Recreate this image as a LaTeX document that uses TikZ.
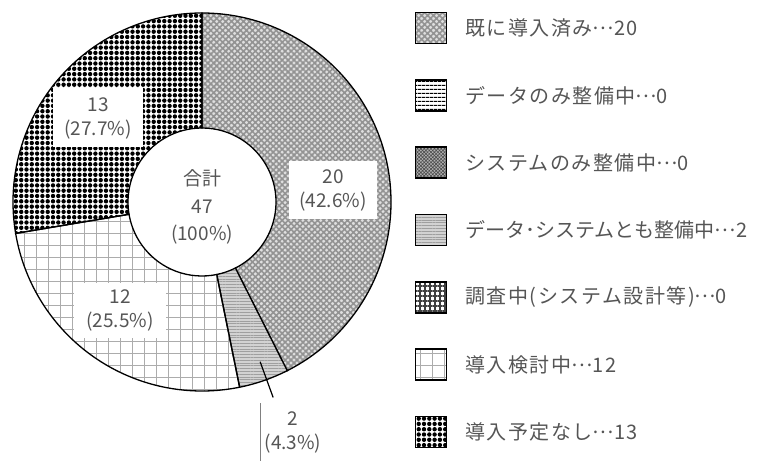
\documentclass[tikz,border=0pt]{standalone}
\usepackage{fontspec}
\setmainfont{Noto Sans CJK JP}
\usetikzlibrary{patterns.meta,positioning}
\definecolor{txtgray}{RGB}{85,85,85}
\newcommand{\middots}{\raisebox{0.3em}{…}}

\begin{document}
\begin{tikzpicture}[x=1pt,y=1pt,
    every node/.style={text=txtgray,font=\fontsize{19}{24}\selectfont},
    ring/.style={draw=black,line width=1.3pt},
    sDone/.style={preaction={fill=gray!25},pattern={Hatch[angle=45,distance=4.2pt,line width=1.6pt]},pattern color=gray!85},
    sData/.style={pattern={Lines[angle=0,distance=4pt,line width=1.1pt]},pattern color=black},
    sSys/.style={preaction={fill=gray!60},pattern={Hatch[angle=45,distance=2.4pt,line width=0.6pt]},pattern color=black!70},
    sBoth/.style={preaction={fill=gray!35},pattern={Lines[angle=0,distance=2.8pt,line width=1pt]},pattern color=gray!75},
    sSurvey/.style={pattern={Hatch[angle=0,distance=5pt,line width=1.3pt]},pattern color=black!75},
    sStudy/.style={pattern={Hatch[angle=0,distance=12pt,line width=0.8pt]},pattern color=gray!65},
    sNone/.style={pattern={Dots[distance=5.3pt,radius=2.2pt]},pattern color=black},
    keybox/.style={draw=black,line width=1.5pt,minimum size=31pt,inner sep=0pt},
    keytext/.style={anchor=west,inner sep=0pt,font=\fontsize{20}{24}\selectfont\addfontfeature{LetterSpace=7.5}},
    valbox/.style={fill=white,align=center,inner sep=0pt}]
  \useasboundingbox (0,0) rectangle (760,461);

  % ring of the pie
  \begin{scope}[shift={(202,259)}]
    \coordinate (C) at (0,0);
    \draw[ring,sDone] (90:74) -- (90:189) arc[start angle=90,end angle=-63.19,radius=189]
      -- (-63.19:74) arc[start angle=-63.19,end angle=90,radius=74] -- cycle;
    \draw[ring,sBoth] (-63.19:74) -- (-63.19:189) arc[start angle=-63.19,end angle=-78.51,radius=189]
      -- (-78.51:74) arc[start angle=-78.51,end angle=-63.19,radius=74] -- cycle;
    \draw[ring,sStudy] (-78.51:74) -- (-78.51:189) arc[start angle=-78.51,end angle=-170.43,radius=189]
      -- (-170.43:74) arc[start angle=-170.43,end angle=-78.51,radius=74] -- cycle;
    \draw[ring,sNone] (-170.43:74) -- (-170.43:189) arc[start angle=-170.43,end angle=-270,radius=189]
      -- (-270:74) arc[start angle=-270,end angle=-170.43,radius=74] -- cycle;
    \coordinate (p1) at (-70:170);
    \coordinate (p2) at (-70:208);
    \node[align=center,font=\fontsize{19}{27.5}\selectfont] (total) at (0,-5) {合計\\47\\(100\%)};
  \end{scope}

  % values
  \node[valbox,minimum width=88pt,minimum height=58pt] (v20) at (333,271) {20\\(42.6\%)};
  \node[valbox,minimum width=90pt,minimum height=59pt] (v13) at (98,343) {13\\(27.7\%)};
  \node[valbox,minimum width=92pt,minimum height=55pt] (v12) at (120,151) {12\\(25.5\%)};
  \node[align=center,inner sep=0pt] (v2) at (293,29) {2\\(4.3\%)};
  \draw[line width=1.2pt] (p1) -- (p2);
  \coordinate (q1) at (260,58);
  \coordinate (q2) at (260,0);
  \draw[gray,line width=0.8pt] (q1) -- (q2);

  % legend
  \node[keybox,sDone] (k1) at (431,433) {};
  \node[keybox,sData] (k2) at (431,365.7) {};
  \node[keybox,sSys] (k3) at (431,298.3) {};
  \node[keybox,sBoth] (k4) at (431,231) {};
  \node[keybox,sSurvey] (k5) at (431,163.7) {};
  \node[keybox,sStudy] (k6) at (431,96.3) {};
  \node[keybox,sNone] (k7) at (431,29) {};
  \node[keytext,right=18pt of k1] (t1) {既に導入済み\middots20};
  \node[keytext,right=18pt of k2] (t2) {データのみ整備中\middots0};
  \node[keytext,right=18pt of k3] (t3) {システムのみ整備中\middots0};
  \node[keytext,right=18pt of k4,font=\fontsize{20}{24}\selectfont] (t4) {データ･システムとも整備中\middots2};
  \node[keytext,right=18pt of k5] (t5) {調査中(システム設計等)\middots0};
  \node[keytext,right=18pt of k6] (t6) {導入検討中\middots12};
  \node[keytext,right=18pt of k7] (t7) {導入予定なし\middots13};
\end{tikzpicture}
\end{document}
